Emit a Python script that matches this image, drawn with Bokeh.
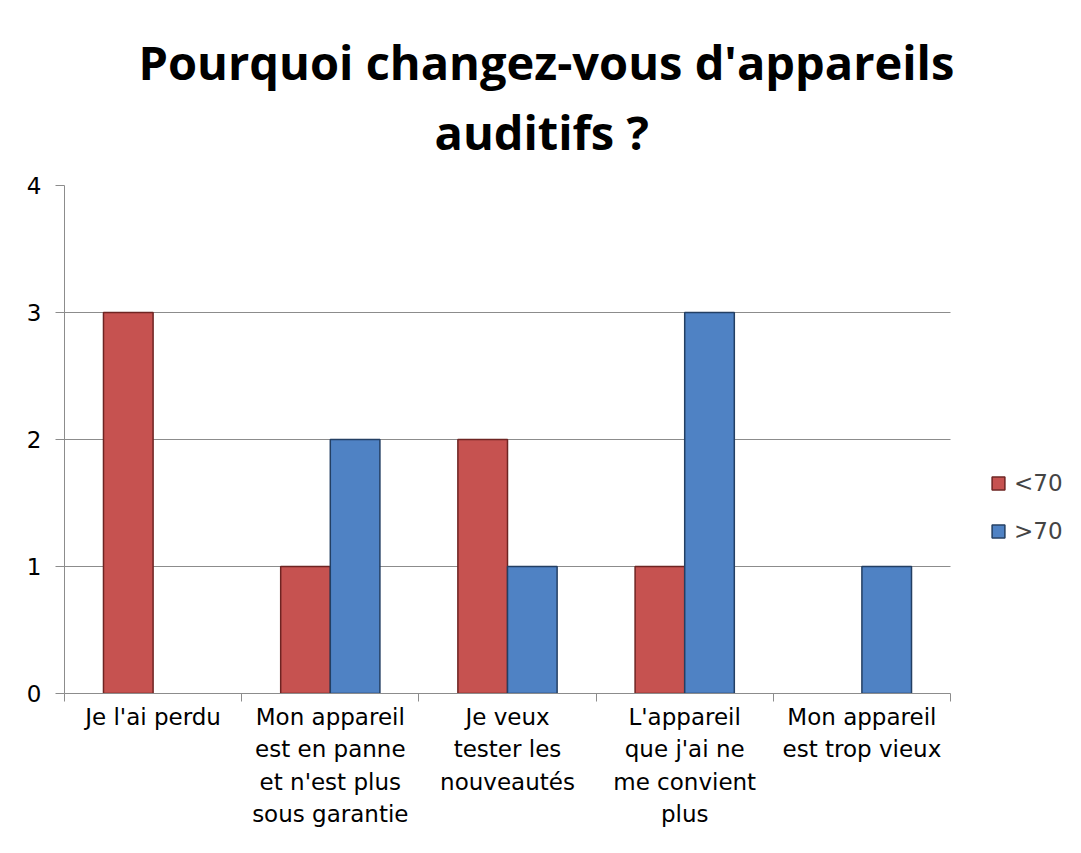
from bokeh.plotting import figure
from bokeh.models import (ColumnDataSource, FixedTicker, Legend, LegendItem, Range1d,
                          CDSView, BooleanFilter, Title)
from bokeh.transform import dodge
from bokeh.embed import file_html
from bokeh.resources import INLINE
import numpy as np

categories = ["Je l'ai perdu",
              "Mon appareil\nest en panne\net n'est plus\nsous garantie",
              "Je veux\ntester les\nnouveautés",
              "L'appareil\nque j'ai ne\nme convient\nplus",
              "Mon appareil\nest trop vieux"]
series_names = ["<70", ">70"]
under70 = [3, 1, 2, 1, 0]
over70 = [0, 2, 1, 3, 1]
y_ticks = [0, 1, 2, 3, 4]
title_lines = ["Pourquoi changez-vous d'appareils", "auditifs ?"]

RED = "#C65250"
BLUE = "#4F82C4"
FONT = "DejaVu Sans"
TFONT = "Open Sans"
GRID = "#8C8C8C"

n = len(categories)
centers = np.arange(n) + 0.5
boundaries = list(np.arange(n + 1).astype(float))

src = ColumnDataSource(dict(x=centers, u=under70, o=over70))

# the frame extends to the right edge so the legend can sit beside the bars
p = figure(width=1065, height=837, output_backend="svg", toolbar_location=None,
           x_range=Range1d(0, n * 1001 / 886), y_range=Range1d(0, 4),
           min_border_left=64, min_border_right=0, min_border_top=185,
           min_border_bottom=144)

t2 = Title(text=title_lines[1], align="left", offset=370, standoff=44,
           text_font=TFONT, text_font_size="47px", text_font_style="bold",
           text_color="#000000")
t1 = Title(text=title_lines[0], align="left", offset=74, standoff=-36,
           text_font=TFONT, text_font_size="47px", text_font_style="bold",
           text_color="#000000")
p.title.visible = False
p.add_layout(t2, "above")
p.add_layout(t1, "above")

bw = 0.28
v_u = CDSView(filter=BooleanFilter([v > 0 for v in under70]))
v_o = CDSView(filter=BooleanFilter([v > 0 for v in over70]))
r1 = p.vbar(x=dodge("x", -bw / 2), top="u", width=bw, source=src, view=v_u,
            fill_color=RED, line_color="#6E2422", line_width=1.5)
r2 = p.vbar(x=dodge("x", bw / 2), top="o", width=bw, source=src, view=v_o,
            fill_color=BLUE, line_color="#233F63", line_width=1.5)

# axes
p.xaxis.bounds = (0, n)
p.xaxis.ticker = FixedTicker(ticks=list(centers), minor_ticks=boundaries)
p.xaxis.major_label_overrides = {float(c): lab for c, lab in zip(centers, categories)}
p.xaxis.major_tick_out = 0
p.xaxis.major_tick_in = 0
p.xaxis.minor_tick_out = 8
p.xaxis.minor_tick_in = 0
p.xaxis.minor_tick_line_color = GRID
p.xaxis.axis_line_color = GRID
p.xaxis.major_label_text_font = FONT
p.xaxis.major_label_text_font_size = "23px"
p.xaxis.major_label_text_color = "#000000"
p.xaxis.major_label_standoff = 2
p.xaxis.major_label_text_line_height = 1.25

p.yaxis.ticker = FixedTicker(ticks=y_ticks, minor_ticks=[])
p.yaxis.major_tick_out = 9
p.yaxis.major_tick_in = 0
p.yaxis.major_tick_line_color = GRID
p.yaxis.axis_line_color = GRID
p.yaxis.major_label_text_font = FONT
p.yaxis.major_label_text_font_size = "23px"
p.yaxis.major_label_text_color = "#000000"
p.yaxis.major_label_standoff = 14

p.xgrid.grid_line_color = None
p.ygrid.grid_line_color = GRID
p.ygrid.ticker = FixedTicker(ticks=y_ticks)
p.ygrid.cross_bounds = (0, n)
p.outline_line_color = None

legend = Legend(items=[LegendItem(label=series_names[0], renderers=[r1]),
                       LegendItem(label=series_names[1], renderers=[r2])],
                location=(926, 149), orientation="vertical")
legend.label_text_font = FONT
legend.label_text_font_size = "23px"
legend.glyph_width = 16
legend.glyph_height = 16
legend.label_height = 26
legend.spacing = 22
legend.padding = 0
legend.margin = 0
legend.border_line_color = None
legend.background_fill_alpha = 0
legend.label_standoff = 8
p.add_layout(legend, "center")

open("out.html", "w").write(file_html(p, INLINE))
